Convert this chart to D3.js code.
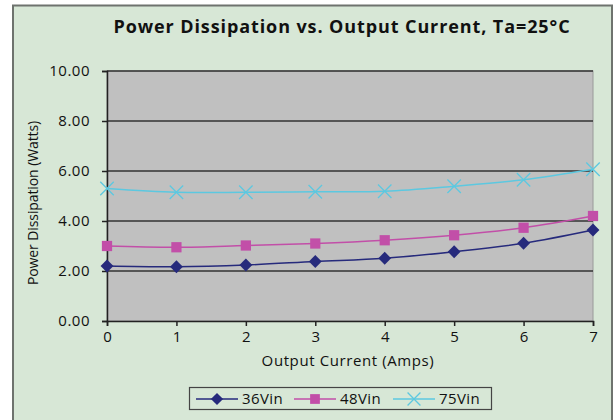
<!DOCTYPE html>
<html lang="en">
<head>
    <meta charset="utf-8">
    <title>Power Dissipation vs. Output Current</title>
    <script src="https://d3js.org/d3.v7.min.js"></script>
    <style>
        body { margin: 0; background: #fff; }
        svg text { font-family: "Open Sans", sans-serif; fill: #111; }
    </style>
</head>
<body>
<div id="chart"></div>
<script>
    'use strict';

    // data
    const current = [0, 1, 2, 3, 4, 5, 6, 7];
    const v36 = [2.20, 2.17, 2.24, 2.38, 2.51, 2.77, 3.11, 3.64];
    const v48 = [3.00, 2.95, 3.02, 3.10, 3.23, 3.43, 3.73, 4.20];
    const v75 = [5.30, 5.15, 5.15, 5.17, 5.19, 5.39, 5.65, 6.07];
    const yTicks = [0, 2, 4, 6, 8, 10];

    const series = [
        { name: "36Vin", values: v36, color: "#262a7c", symbol: d3.symbolDiamond2 },
        { name: "48Vin", values: v48, color: "#c24fa8", symbol: d3.symbolSquare },
        { name: "75Vin", values: v75, color: "#5cc8e0", symbol: d3.symbolX }
    ];

    const width = 613, height = 420;
    const plot = { left: 107, right: 593, top: 71, bottom: 321 };

    const svg = d3.select("#chart").append("svg")
        .attr("width", width)
        .attr("height", height);

    // chart frame
    svg.append("rect")
        .attr("x", 13).attr("y", 5.5)
        .attr("width", 599).attr("height", 420)
        .attr("fill", "#d7e7d6")
        .attr("stroke", "#6e736e")
        .attr("stroke-width", 2);

    const x = d3.scaleLinear().domain([0, 7]).range([plot.left, plot.right]);
    const y = d3.scaleLinear().domain([0, 10]).range([plot.bottom, plot.top]);

    // plot area
    svg.append("rect")
        .attr("x", plot.left).attr("y", plot.top)
        .attr("width", plot.right - plot.left).attr("height", plot.bottom - plot.top)
        .attr("fill", "#c0c0c0")
        .attr("stroke", "#9a9a9a");

    // gridlines
    svg.append("g").selectAll("line")
        .data(yTicks.filter(d => d > 0))
        .join("line")
        .attr("x1", plot.left).attr("x2", plot.right)
        .attr("y1", d => y(d)).attr("y2", d => y(d))
        .attr("stroke", "#333")
        .attr("stroke-width", 1.5);

    // y axis
    const yAxis = svg.append("g")
        .attr("transform", `translate(${plot.left},0)`)
        .call(d3.axisLeft(y).tickValues(yTicks).tickFormat(d3.format(".2f")).tickSize(5).tickPadding(12));
    yAxis.select(".domain").attr("stroke", "#222").attr("stroke-width", 1.5);
    yAxis.selectAll(".tick line").attr("stroke", "#222").attr("stroke-width", 1.5);
    yAxis.selectAll("text").style("font-size", "15px").style("letter-spacing", "0.5px").attr("fill", "#111");

    // x axis
    const xAxis = svg.append("g")
        .attr("transform", `translate(0,${plot.bottom})`)
        .call(d3.axisBottom(x).tickValues(current).tickFormat(d3.format("d")).tickSize(5).tickPadding(5));
    xAxis.select(".domain").attr("stroke", "#222").attr("stroke-width", 1.5);
    xAxis.selectAll(".tick line").attr("stroke", "#222").attr("stroke-width", 1.5);
    xAxis.selectAll("text").style("font-size", "15px").attr("fill", "#111");

    // titles
    svg.append("text")
        .attr("x", 342).attr("y", 33)
        .attr("text-anchor", "middle")
        .style("font-size", "18px").style("font-weight", "bold")
        .style("letter-spacing", "0.9px")
        .text("Power Dissipation vs. Output Current, Ta=25°C");

    svg.append("text")
        .attr("x", 348).attr("y", 366)
        .attr("text-anchor", "middle")
        .style("font-size", "15px")
        .style("letter-spacing", "0.6px")
        .text("Output Current (Amps)");

    svg.append("text")
        .attr("transform", "translate(38,203) rotate(-90)")
        .attr("text-anchor", "middle")
        .style("font-size", "14px")
        .style("letter-spacing", "-0.1px")
        .text("Power Dissipation (Watts)");

    // lines and markers
    const line = d3.line()
        .x((d, i) => x(current[i]))
        .y(d => y(d))
        .curve(d3.curveCatmullRom.alpha(0));

    function marker(sel, s, size) {
        sel.attr("d", d3.symbol().type(s.symbol).size(size));
        if (s.symbol === d3.symbolX) {
            sel.attr("fill", "none").attr("stroke", s.color).attr("stroke-width", 1.3);
        } else {
            sel.attr("fill", s.color).attr("stroke", "none");
        }
    }

    series.forEach(s => {
        svg.append("path")
            .datum(s.values)
            .attr("fill", "none")
            .attr("stroke", s.color)
            .attr("stroke-width", 1.5)
            .attr("d", line);
        svg.append("g").selectAll("path")
            .data(s.values)
            .join("path")
            .attr("transform", (d, i) => `translate(${x(current[i])},${y(d)})`)
            .call(marker, s, s.symbol === d3.symbolX ? 120 : 105);
    });

    // legend
    const legend = svg.append("g");
    legend.append("rect")
        .attr("x", 189.5).attr("y", 387.5)
        .attr("width", 302).attr("height", 22)
        .attr("fill", "#d7e7d6")
        .attr("stroke", "#444")
        .attr("stroke-width", 1.2);

    const legendX = [196, 294, 393];
    series.forEach((s, i) => {
        const g = legend.append("g").attr("transform", `translate(${legendX[i]},399)`);
        g.append("line")
            .attr("x1", 0).attr("x2", 42)
            .attr("stroke", s.color).attr("stroke-width", 1.5);
        g.append("path")
            .attr("transform", "translate(21,0)")
            .call(marker, s, s.symbol === d3.symbolX ? 110 : 95);
        g.append("text")
            .attr("x", 46).attr("y", 5)
            .style("font-size", "15px")
            .style("letter-spacing", "0.4px")
            .text(s.name);
    });
</script>
</body>
</html>
